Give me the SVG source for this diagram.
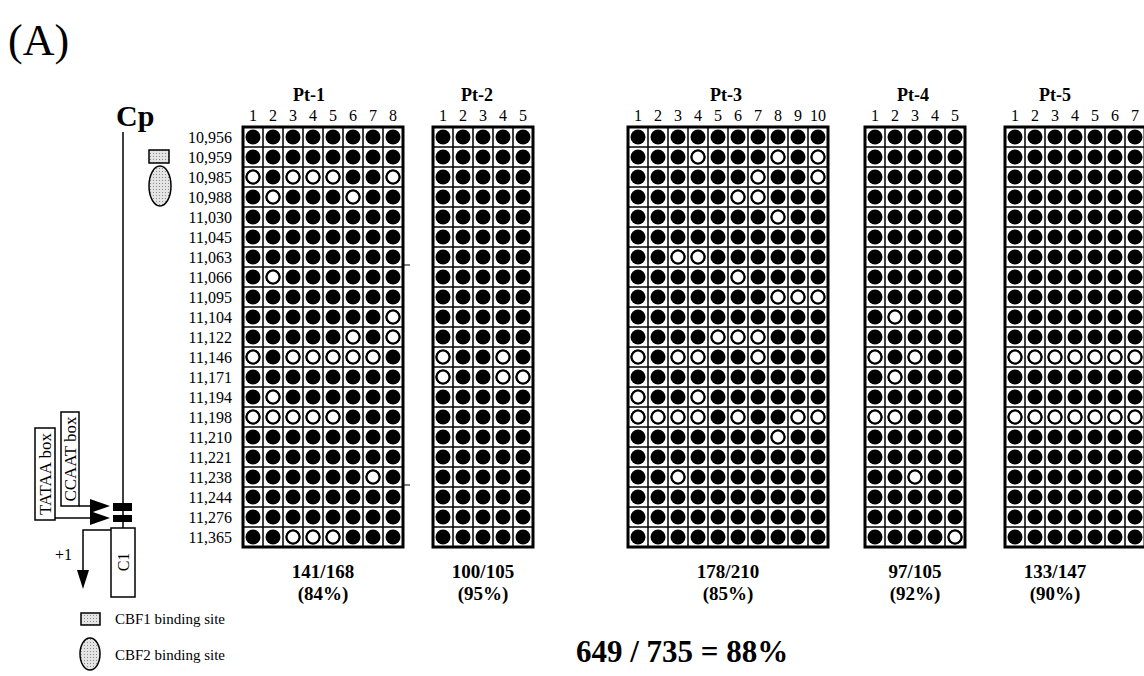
<svg xmlns="http://www.w3.org/2000/svg" xmlns:xlink="http://www.w3.org/1999/xlink" width="1144" height="676" viewBox="0 0 1144 676">
<style>
text{font-family:"Liberation Serif","Times New Roman",serif;fill:#000}
.lbl{font-size:16px;text-anchor:end}
.num{font-size:16px;text-anchor:middle}
.ttl{font-size:18px;font-weight:bold;text-anchor:middle}
.tot{font-size:19px;font-weight:bold;text-anchor:middle}
.leg{font-size:15px}
.box{font-size:17px;text-anchor:middle}
.ln{stroke:#000;stroke-width:1.5;fill:none}
.frame{fill:none;stroke:#000;stroke-width:3}
</style>
<defs>
<pattern id="cells" patternUnits="userSpaceOnUse" width="20" height="20">
<rect width="20" height="20" fill="#fff"/>
<path d="M0 0H20V20H0Z" fill="none" stroke="#000" stroke-width="1.5"/>
<circle cx="10" cy="10" r="7.5" fill="#000"/>
</pattern>
<pattern id="stip" patternUnits="userSpaceOnUse" width="3" height="3">
<rect width="3" height="3" fill="#e4e4e4"/>
<rect width="1" height="1" fill="#8a8a8a"/>
</pattern>
<circle id="o" r="6.5" fill="#fff" stroke="#000" stroke-width="2.2"/>
</defs>
<rect width="1144" height="676" fill="#fff"/>
<text x="8" y="55" style="font-size:44px">(A)</text>

<g id="promoter">
<text x="116" y="126" style="font-size:30px;font-weight:bold">Cp</text>
<line class="ln" x1="123" y1="132" x2="123" y2="528"/>
<rect x="149" y="150" width="20" height="13" fill="url(#stip)" stroke="#000" stroke-width="1.5"/>
<ellipse cx="160" cy="186" rx="11" ry="20" fill="url(#stip)" stroke="#000" stroke-width="1.5"/>
<rect x="113" y="503" width="19" height="8" fill="#000"/>
<rect x="113" y="515" width="19" height="7" fill="#000"/>
<rect x="111" y="528" width="24" height="69" fill="#fff" stroke="#000" stroke-width="1.5"/>
<text transform="translate(129,562) rotate(-90)" style="font-size:16px;text-anchor:middle">C1</text>
<rect x="35" y="428" width="20" height="92" fill="#fff" stroke="#000" stroke-width="1.5"/>
<text class="box" transform="translate(51,474) rotate(-90)">TATAA box</text>
<rect x="61" y="412" width="18" height="94" fill="#fff" stroke="#000" stroke-width="1.5"/>
<text class="box" transform="translate(76,459) rotate(-90)">CCAAT box</text>
<path class="ln" d="M79 506H92"/>
<path d="M90 499L110 506L90 513Z" fill="#000"/>
<path class="ln" d="M55 518H92"/>
<path d="M90 511L110 518L90 525Z" fill="#000"/>
<path class="ln" d="M111 530H83V572"/>
<path d="M77 570L89 570L83 589Z" fill="#000"/>
<text x="55" y="560" style="font-size:16px">+1</text>
</g>

<g id="legend">
<rect x="81" y="613" width="19" height="12" fill="url(#stip)" stroke="#000" stroke-width="1.5"/>
<text class="leg" x="115" y="624">CBF1 binding site</text>
<ellipse cx="90" cy="654" rx="10" ry="16" fill="url(#stip)" stroke="#000" stroke-width="1.5"/>
<text class="leg" x="115" y="660">CBF2 binding site</text>
</g>

<g id="positions">
<text class="lbl" x="232" y="142.5">10,956</text>
<text class="lbl" x="232" y="162.5">10,959</text>
<text class="lbl" x="232" y="182.5">10,985</text>
<text class="lbl" x="232" y="202.5">10,988</text>
<text class="lbl" x="232" y="222.5">11,030</text>
<text class="lbl" x="232" y="242.5">11,045</text>
<text class="lbl" x="232" y="262.5">11,063</text>
<text class="lbl" x="232" y="282.5">11,066</text>
<text class="lbl" x="232" y="302.5">11,095</text>
<text class="lbl" x="232" y="322.5">11,104</text>
<text class="lbl" x="232" y="342.5">11,122</text>
<text class="lbl" x="232" y="362.5">11,146</text>
<text class="lbl" x="232" y="382.5">11,171</text>
<text class="lbl" x="232" y="402.5">11,194</text>
<text class="lbl" x="232" y="422.5">11,198</text>
<text class="lbl" x="232" y="442.5">11,210</text>
<text class="lbl" x="232" y="462.5">11,221</text>
<text class="lbl" x="232" y="482.5">11,238</text>
<text class="lbl" x="232" y="502.5">11,244</text>
<text class="lbl" x="232" y="522.5">11,276</text>
<text class="lbl" x="232" y="542.5">11,365</text>
</g>

<g id="pt1" transform="translate(243,127)">
<text class="ttl" x="66" y="-26">Pt-1</text>
<text class="num" x="10" y="-6">1</text><text class="num" x="30" y="-6">2</text><text class="num" x="50" y="-6">3</text><text class="num" x="70" y="-6">4</text><text class="num" x="90" y="-6">5</text><text class="num" x="110" y="-6">6</text><text class="num" x="130" y="-6">7</text><text class="num" x="150" y="-6">8</text>
<rect width="160" height="420" fill="url(#cells)"/>
<use href="#o" x="10" y="50"/><use href="#o" x="50" y="50"/><use href="#o" x="70" y="50"/><use href="#o" x="90" y="50"/><use href="#o" x="150" y="50"/>
<use href="#o" x="30" y="70"/><use href="#o" x="110" y="70"/>
<use href="#o" x="30" y="150"/>
<use href="#o" x="150" y="190"/>
<use href="#o" x="110" y="210"/><use href="#o" x="150" y="210"/>
<use href="#o" x="10" y="230"/><use href="#o" x="50" y="230"/><use href="#o" x="70" y="230"/><use href="#o" x="90" y="230"/><use href="#o" x="110" y="230"/><use href="#o" x="130" y="230"/>
<use href="#o" x="30" y="270"/>
<use href="#o" x="10" y="290"/><use href="#o" x="30" y="290"/><use href="#o" x="50" y="290"/><use href="#o" x="70" y="290"/><use href="#o" x="90" y="290"/>
<use href="#o" x="130" y="350"/>
<use href="#o" x="50" y="410"/><use href="#o" x="70" y="410"/><use href="#o" x="90" y="410"/>
<rect class="frame" width="160" height="420"/>
<path d="M160 138H167M160 358H167" stroke="#000" stroke-width="1"/>
<text class="tot" x="80" y="451">141/168</text>
<text class="tot" x="80" y="473">(84%)</text>
</g>

<g id="pt2" transform="translate(433,127)">
<text class="ttl" x="44" y="-26">Pt-2</text>
<text class="num" x="10" y="-6">1</text><text class="num" x="30" y="-6">2</text><text class="num" x="50" y="-6">3</text><text class="num" x="70" y="-6">4</text><text class="num" x="90" y="-6">5</text>
<rect width="100" height="420" fill="url(#cells)"/>
<use href="#o" x="10" y="230"/><use href="#o" x="70" y="230"/>
<use href="#o" x="10" y="250"/><use href="#o" x="70" y="250"/><use href="#o" x="90" y="250"/>
<rect class="frame" width="100" height="420"/>
<text class="tot" x="50" y="451">100/105</text>
<text class="tot" x="50" y="473">(95%)</text>
</g>

<g id="pt3" transform="translate(628,127)">
<text class="ttl" x="98" y="-26">Pt-3</text>
<text class="num" x="10" y="-6">1</text><text class="num" x="30" y="-6">2</text><text class="num" x="50" y="-6">3</text><text class="num" x="70" y="-6">4</text><text class="num" x="90" y="-6">5</text><text class="num" x="110" y="-6">6</text><text class="num" x="130" y="-6">7</text><text class="num" x="150" y="-6">8</text><text class="num" x="170" y="-6">9</text><text class="num" x="190" y="-6">10</text>
<rect width="200" height="420" fill="url(#cells)"/>
<use href="#o" x="70" y="30"/><use href="#o" x="150" y="30"/><use href="#o" x="190" y="30"/>
<use href="#o" x="130" y="50"/><use href="#o" x="190" y="50"/>
<use href="#o" x="110" y="70"/><use href="#o" x="130" y="70"/>
<use href="#o" x="150" y="90"/>
<use href="#o" x="50" y="130"/><use href="#o" x="70" y="130"/>
<use href="#o" x="110" y="150"/>
<use href="#o" x="150" y="170"/><use href="#o" x="170" y="170"/><use href="#o" x="190" y="170"/>
<use href="#o" x="90" y="210"/><use href="#o" x="110" y="210"/><use href="#o" x="130" y="210"/>
<use href="#o" x="10" y="230"/><use href="#o" x="50" y="230"/><use href="#o" x="70" y="230"/><use href="#o" x="130" y="230"/>
<use href="#o" x="10" y="270"/><use href="#o" x="70" y="270"/>
<use href="#o" x="10" y="290"/><use href="#o" x="30" y="290"/><use href="#o" x="50" y="290"/><use href="#o" x="70" y="290"/><use href="#o" x="110" y="290"/><use href="#o" x="170" y="290"/><use href="#o" x="190" y="290"/>
<use href="#o" x="150" y="310"/>
<use href="#o" x="50" y="350"/>
<rect class="frame" width="200" height="420"/>
<text class="tot" x="100" y="451">178/210</text>
<text class="tot" x="100" y="473">(85%)</text>
</g>

<g id="pt4" transform="translate(865,127)">
<text class="ttl" x="48" y="-26">Pt-4</text>
<text class="num" x="10" y="-6">1</text><text class="num" x="30" y="-6">2</text><text class="num" x="50" y="-6">3</text><text class="num" x="70" y="-6">4</text><text class="num" x="90" y="-6">5</text>
<rect width="100" height="420" fill="url(#cells)"/>
<use href="#o" x="30" y="190"/>
<use href="#o" x="10" y="230"/><use href="#o" x="50" y="230"/>
<use href="#o" x="30" y="250"/>
<use href="#o" x="10" y="290"/><use href="#o" x="30" y="290"/>
<use href="#o" x="50" y="350"/>
<use href="#o" x="90" y="410"/>
<rect class="frame" width="100" height="420"/>
<text class="tot" x="50" y="451">97/105</text>
<text class="tot" x="50" y="473">(92%)</text>
</g>

<g id="pt5" transform="translate(1005,127)">
<text class="ttl" x="50" y="-26">Pt-5</text>
<text class="num" x="10" y="-6">1</text><text class="num" x="30" y="-6">2</text><text class="num" x="50" y="-6">3</text><text class="num" x="70" y="-6">4</text><text class="num" x="90" y="-6">5</text><text class="num" x="110" y="-6">6</text><text class="num" x="130" y="-6">7</text>
<rect width="140" height="420" fill="url(#cells)"/>
<use href="#o" x="10" y="230"/><use href="#o" x="30" y="230"/><use href="#o" x="50" y="230"/><use href="#o" x="70" y="230"/><use href="#o" x="90" y="230"/><use href="#o" x="110" y="230"/><use href="#o" x="130" y="230"/>
<use href="#o" x="10" y="290"/><use href="#o" x="30" y="290"/><use href="#o" x="50" y="290"/><use href="#o" x="70" y="290"/><use href="#o" x="90" y="290"/><use href="#o" x="110" y="290"/><use href="#o" x="130" y="290"/>
<rect class="frame" width="140" height="420"/>
<text class="tot" x="50" y="451">133/147</text>
<text class="tot" x="50" y="473">(90%)</text>
</g>

<text x="576" y="662" style="font-size:31px;font-weight:bold">649 / 735 = 88%</text>
</svg>
